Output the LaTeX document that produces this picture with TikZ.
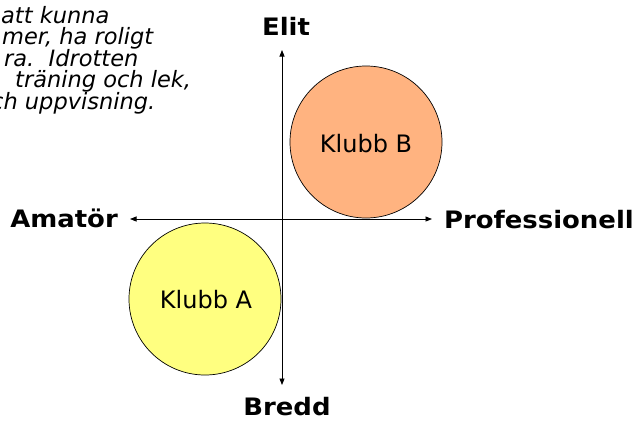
\documentclass[tikz,border=0pt]{standalone}
\usepackage{fontspec}
\setmainfont{DejaVu Sans}
\newfontfamily\labelfont{DejaVu Sans}[FakeStretch=1.08]
\usetikzlibrary{arrows.meta}
\definecolor{clubA}{RGB}{255,255,128}
\definecolor{clubB}{RGB}{255,179,128}
\tikzset{
  axis/.style={line width=0.8pt, -{Triangle[length=6.5pt,width=5pt]}},
  axislabel/.style={font=\labelfont\fontsize{24}{28}\selectfont\bfseries, inner sep=0pt},
  club/.style={circle, draw=black, line width=0.7pt, minimum size=152pt, inner sep=0pt},
  clubtext/.style={font=\fontsize{24}{28}\selectfont, inner sep=0pt},
  quote/.style={font=\fontsize{22.5}{26}\selectfont\itshape, inner sep=0pt, anchor=base west},
}
\begin{document}
\begin{tikzpicture}[x=1pt,y=-1pt]
\useasboundingbox (0,0) rectangle (636,421);
\clip (0,0) rectangle (636,421);
\fill[white] (0,0) rectangle (636,421);
% quote fragments
\node[quote] (t1) at (1,23) {att kunna};
\node[quote] (t2) at (2,44.6) {mer, ha roligt};
\node[quote] (t3) at (4,66.2) {ra.\ \ Idrotten};
\node[quote] (t4) at (15,87.8) {träning och lek,};
\node[quote] (t5) at (-9,109.4) {ch uppvisning.};
% axes
\coordinate (c) at (282,219);
\coordinate (top) at (282,50);
\coordinate (bot) at (282,385);
\coordinate (lft) at (130,219);
\coordinate (rgt) at (432,219);
\draw[axis] (c) -- (top);
\draw[axis] (c) -- (bot);
\draw[axis] (c) -- (lft);
\draw[axis] (c) -- (rgt);
% circles
\node[club, fill=clubB] (B) at (366,142) {};
\node[club, fill=clubA] (A) at (205,299) {};
\node[clubtext] (Bt) at (366,144) {Klubb B};
\node[clubtext] (At) at (206,300) {Klubb A};
% labels
\node[axislabel, anchor=base] (elit) at (286,35) {Elit};
\node[axislabel, anchor=base] (bredd) at (287,415) {Bredd};
\node[axislabel, anchor=base east] (amator) at (118,227) {Amatör};
\node[axislabel, anchor=base east] (prof) at (634,228) {Professionell};
\end{tikzpicture}
\end{document}
